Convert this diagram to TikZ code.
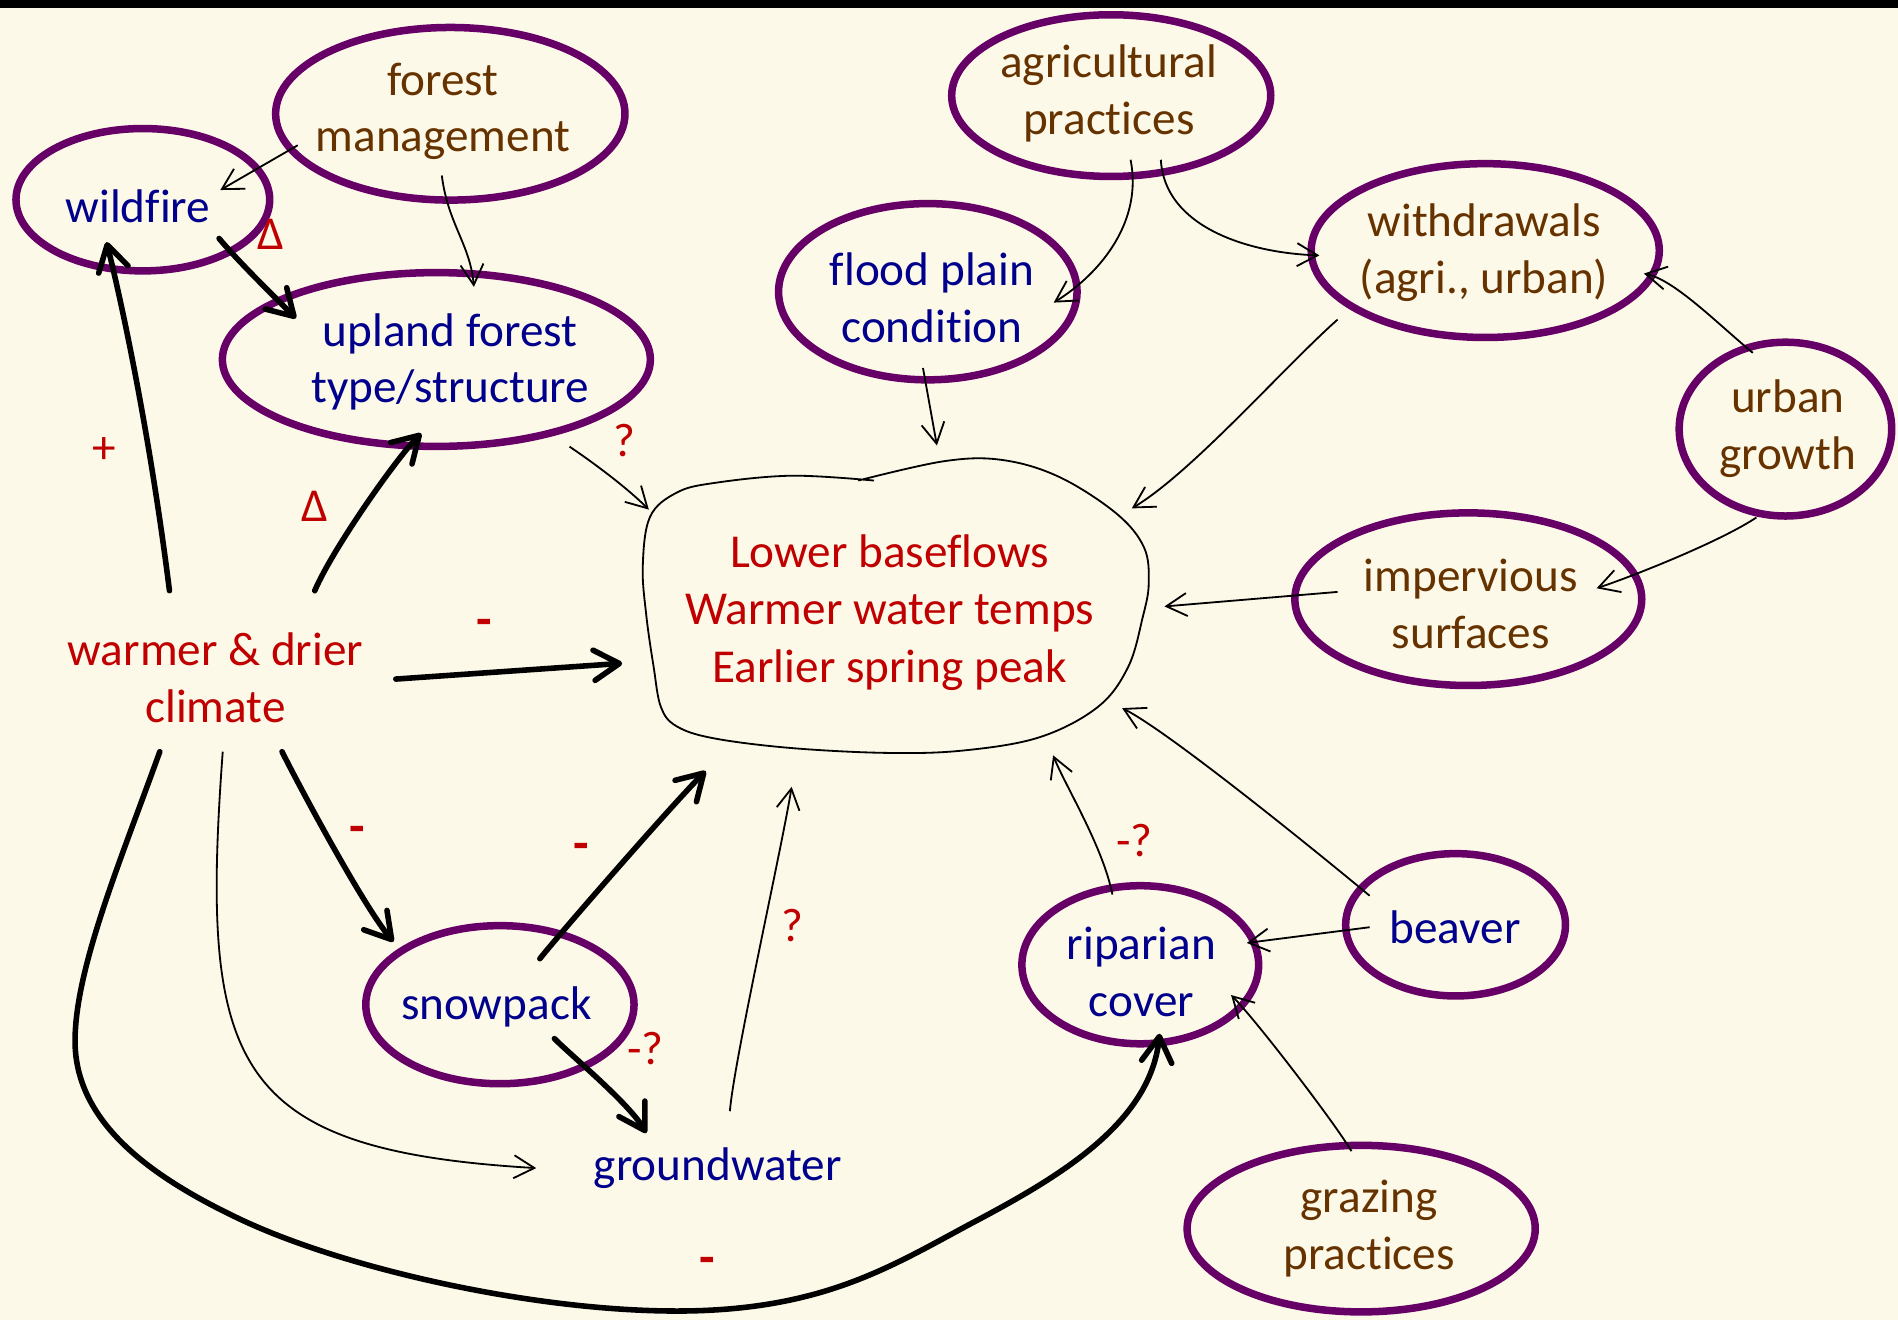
\documentclass[tikz,border=0pt]{standalone}
\usepackage{fontspec}
\setmainfont{Carlito}[Ligatures=NoCommon]
\usetikzlibrary{arrows.meta,shapes.geometric,calc}
\definecolor{bgc}{RGB}{252,249,232}
\definecolor{ellc}{RGB}{102,0,102}
\definecolor{brn}{RGB}{102,51,0}
\definecolor{nvy}{RGB}{0,0,140}
\definecolor{rd}{RGB}{192,0,0}
\tikzset{
  ell/.style={draw=ellc, line width=3.1pt, ellipse, inner sep=0pt},
  txt/.style={align=center, inner sep=0pt},
  thinarr/.style={draw=black, line width=0.75pt, -{Straight Barb[length=8.5pt,width=9.5pt]}},
  thickarr/.style={draw=black, line width=2.3pt, line cap=round, -{Straight Barb[length=10.5pt,width=12.5pt,round]}},
  lab/.style={text=rd, inner sep=0pt},
  minus/.style={text=rd, inner sep=0pt, font=\fontsize{21}{24}\selectfont\bfseries}
}
\begin{document}
\begin{tikzpicture}[x=0.5pt,y=-0.5pt,font=\fontsize{19.5}{23.5}\selectfont]
\fill[bgc] (0,0) rectangle (1568,1090.5);
\fill[black] (0,0) rectangle (1568,7);
\useasboundingbox (0,0) rectangle (1568,1090.5);

% ellipses
\node[ell, minimum width=144.3pt, minimum height=71.3pt] (fm) at (372,94) {};
\node[ell, minimum width=104.8pt, minimum height=58.8pt] (wf) at (118,165) {};
\node[ell, minimum width=176.8pt, minimum height=71.8pt] (up) at (360.5,297) {};
\node[ell, minimum width=131.8pt, minimum height=66.8pt] (ag) at (918,79) {};
\node[ell, minimum width=123.3pt, minimum height=72.8pt] (fp) at (766.5,241) {};
\node[ell, minimum width=143.8pt, minimum height=71.8pt] (wd) at (1227,207) {};
\node[ell, minimum width=87.8pt, minimum height=71.8pt] (ug) at (1475,354.5) {};
\node[ell, minimum width=143.3pt, minimum height=71.3pt] (im) at (1213,495) {};
\node[ell, minimum width=90.8pt, minimum height=58.8pt] (bv) at (1202.5,764) {};
\node[ell, minimum width=97.8pt, minimum height=65.3pt] (rc) at (942,797) {};
\node[ell, minimum width=143.8pt, minimum height=68.8pt] (gz) at (1124.5,1015) {};
\node[ell, minimum width=110.8pt, minimum height=65.3pt] (sp) at (413,830) {};

% texts
\node[txt, text=brn] (fmt) at (366,92) {forest\\management};
\node[txt, text=nvy] (wft) at (114,170) {wildfire};
\node[txt, text=nvy] (upt) at (372,299) {upland forest\\type/structure};
\node[txt, text=brn] (agt) at (916,77) {agricultural\\practices};
\node[txt, text=nvy] (fpt) at (770,246) {flood plain\\condition};
\node[txt, text=brn] (wdt) at (1226,209) {withdrawals\\(agri., urban)};
\node[txt, text=brn] (ugt) at (1477,354) {urban\\growth};
\node[txt, text=brn] (imt) at (1215,499) {impervious\\surfaces};
\node[txt, text=nvy] (bvt) at (1202,766) {beaver};
\node[txt, text=nvy] (rct) at (943,803) {riparian\\cover};
\node[txt, text=brn] (gzt) at (1131,1015) {grazing\\practices};
\node[txt, text=nvy] (spt) at (410,832) {snowpack};
\node[txt, text=rd] (cl) at (178,560) {warmer \& drier\\climate};
\node[txt, text=nvy] (gw) at (593,965) {groundwater};
\node[txt, text=rd, font=\fontsize{19.5}{23.75}\selectfont] (out) at (735,506) {Lower baseflows\\Warmer water temps\\Earlier spring peak};

% blob outline
\draw[line width=0.75pt] plot[smooth, tension=0.6] coordinates {(709,397) (780,381) (828,380) (875,394) (922,424) (945,452) (949,482) (944,510) (932,551) (907,584) (859,609) (796,620) (733,622) (654,618) (590,610) (559,600) (546,584) (540,551) (534,509) (531,468) (537,427) (559,407) (590,399) (654,393) (722,397)};

% thin connectors
\draw[thinarr] ([shift={(-126,26)}]fm.center) -- ([shift={(64,-8)}]wf.center);
\draw[thinarr] ([shift={(-7,51)}]fm.center) .. controls +(5,40) and +(-3,-35) .. ([shift={(31,-60)}]up.center);
\draw[thinarr] ([shift={(16,53)}]ag.center) .. controls +(10,50) and +(40,-25) .. ([shift={(104,9)}]fp.center);
\draw[thinarr] ([shift={(41,53)}]ag.center) .. controls +(3,55) and +(-60,-2) .. ([shift={(-137,4)}]wd.center);
\draw[thinarr] ([shift={(-4,63)}]fp.center) -- ([shift={(39,-138)}]out.center);
\draw[thinarr] ([shift={(-122,57)}]wd.center) .. controls +(-45,40) and +(50,-30) .. ([shift={(200,-86)}]out.center);
\draw[thinarr] ([shift={(-27,-63)}]ug.center) .. controls +(-30,-25) and +(25,5) .. ([shift={(131,19)}]wd.center);
\draw[thinarr] ([shift={(-24,73)}]ug.center) .. controls +(-30,20) and +(30,-10) .. ([shift={(106,-9)}]im.center);
\draw[thinarr] ([shift={(-108,-6)}]im.center) -- ([shift={(227,-5)}]out.center);
\draw[thinarr] ([shift={(-71,-24)}]bv.center) .. controls +(-30,-25) and +(40,20) .. ([shift={(192,79)}]out.center);
\draw[thinarr] ([shift={(-71,2)}]bv.center) -- ([shift={(88,-18)}]rc.center);
\draw[thinarr] ([shift={(-8,-64)}]gz.center) .. controls +(-15,-25) and +(20,20) .. ([shift={(75,25)}]rc.center);
\draw[thinarr] ([shift={(-23,-58)}]rc.center) .. controls +(-8,-40) and +(10,25) .. ([shift={(135,118)}]out.center);
\draw[thinarr] ([shift={(110,72)}]up.center) .. controls +(15,10) and +(-20,-20) .. ([shift={(-199,-85)}]out.center);
\draw[thinarr] ([shift={(10,-47)}]gw.center) .. controls +(3,-40) and +(-8,50) .. ([shift={(-81,144)}]out.center);
\draw[thinarr] ([shift={(6,61)}]cl.center) .. controls +(-19,259) and +(-253,-15) .. ([shift={(-150,0)}]gw.center);

% thick connectors
\draw[thickarr] ([shift={(-38,-72)}]cl.center) .. controls +(-15,-120) and +(15,60) .. ([shift={(-30,35)}]wf.center);
\draw[thickarr] ([shift={(82,-72)}]cl.center) .. controls +(15,-35) and +(-20,20) .. ([shift={(-12.5,61)}]up.center);
\draw[thickarr] ([shift={(149,1)}]cl.center) -- ([shift={(-221,42)}]out.center);
\draw[thickarr] ([shift={(55,61)}]cl.center) .. controls +(15,30) and +(-25,-30) .. ([shift={(-88,-52)}]sp.center);
\draw[thickarr] ([shift={(33,-38)}]sp.center) .. controls +(20,-25) and +(-25,25) .. ([shift={(-152,131)}]out.center);
\draw[thickarr] ([shift={(45,28)}]sp.center) .. controls +(15,15) and +(-15,-25) .. ([shift={(-59,-29)}]gw.center);
\draw[thickarr] ([shift={(63,32)}]wf.center) .. controls +(15,18) and +(-20,-20) .. ([shift={(-116,-34)}]up.center);
\draw[thickarr] ([shift={(-46,61)}]cl.center) .. controls (100,710) and (62,800) .. (62,860)
  .. controls (62,930) and (130,975) .. (200,1008)
  .. controls (290,1050) and (450,1085) .. (569,1083)
  .. controls (680,1081) and (735,1047) .. (800,1012)
  .. controls (870,975) and (950,930) .. ([shift={(16,57)}]rc.center);

% labels
\node[lab] (d1) at (224,194) {Δ};
\node[lab] (d2) at (260,418) {Δ};
\node[lab] (pl) at (86,372) {+};
\node[lab] (q1) at (516,364) {?};
\node[minus] (m1) at (400,519) {-};
\node[minus] (m2) at (295,690) {-};
\node[minus] (m3) at (480,704) {-};
\node[lab] (mq1) at (533,866) {-?};
\node[lab] (q2) at (655,765) {?};
\node[lab] (mq2) at (937,694) {-?};
\node[minus] (m4) at (584,1046) {-};
\end{tikzpicture}
\end{document}
